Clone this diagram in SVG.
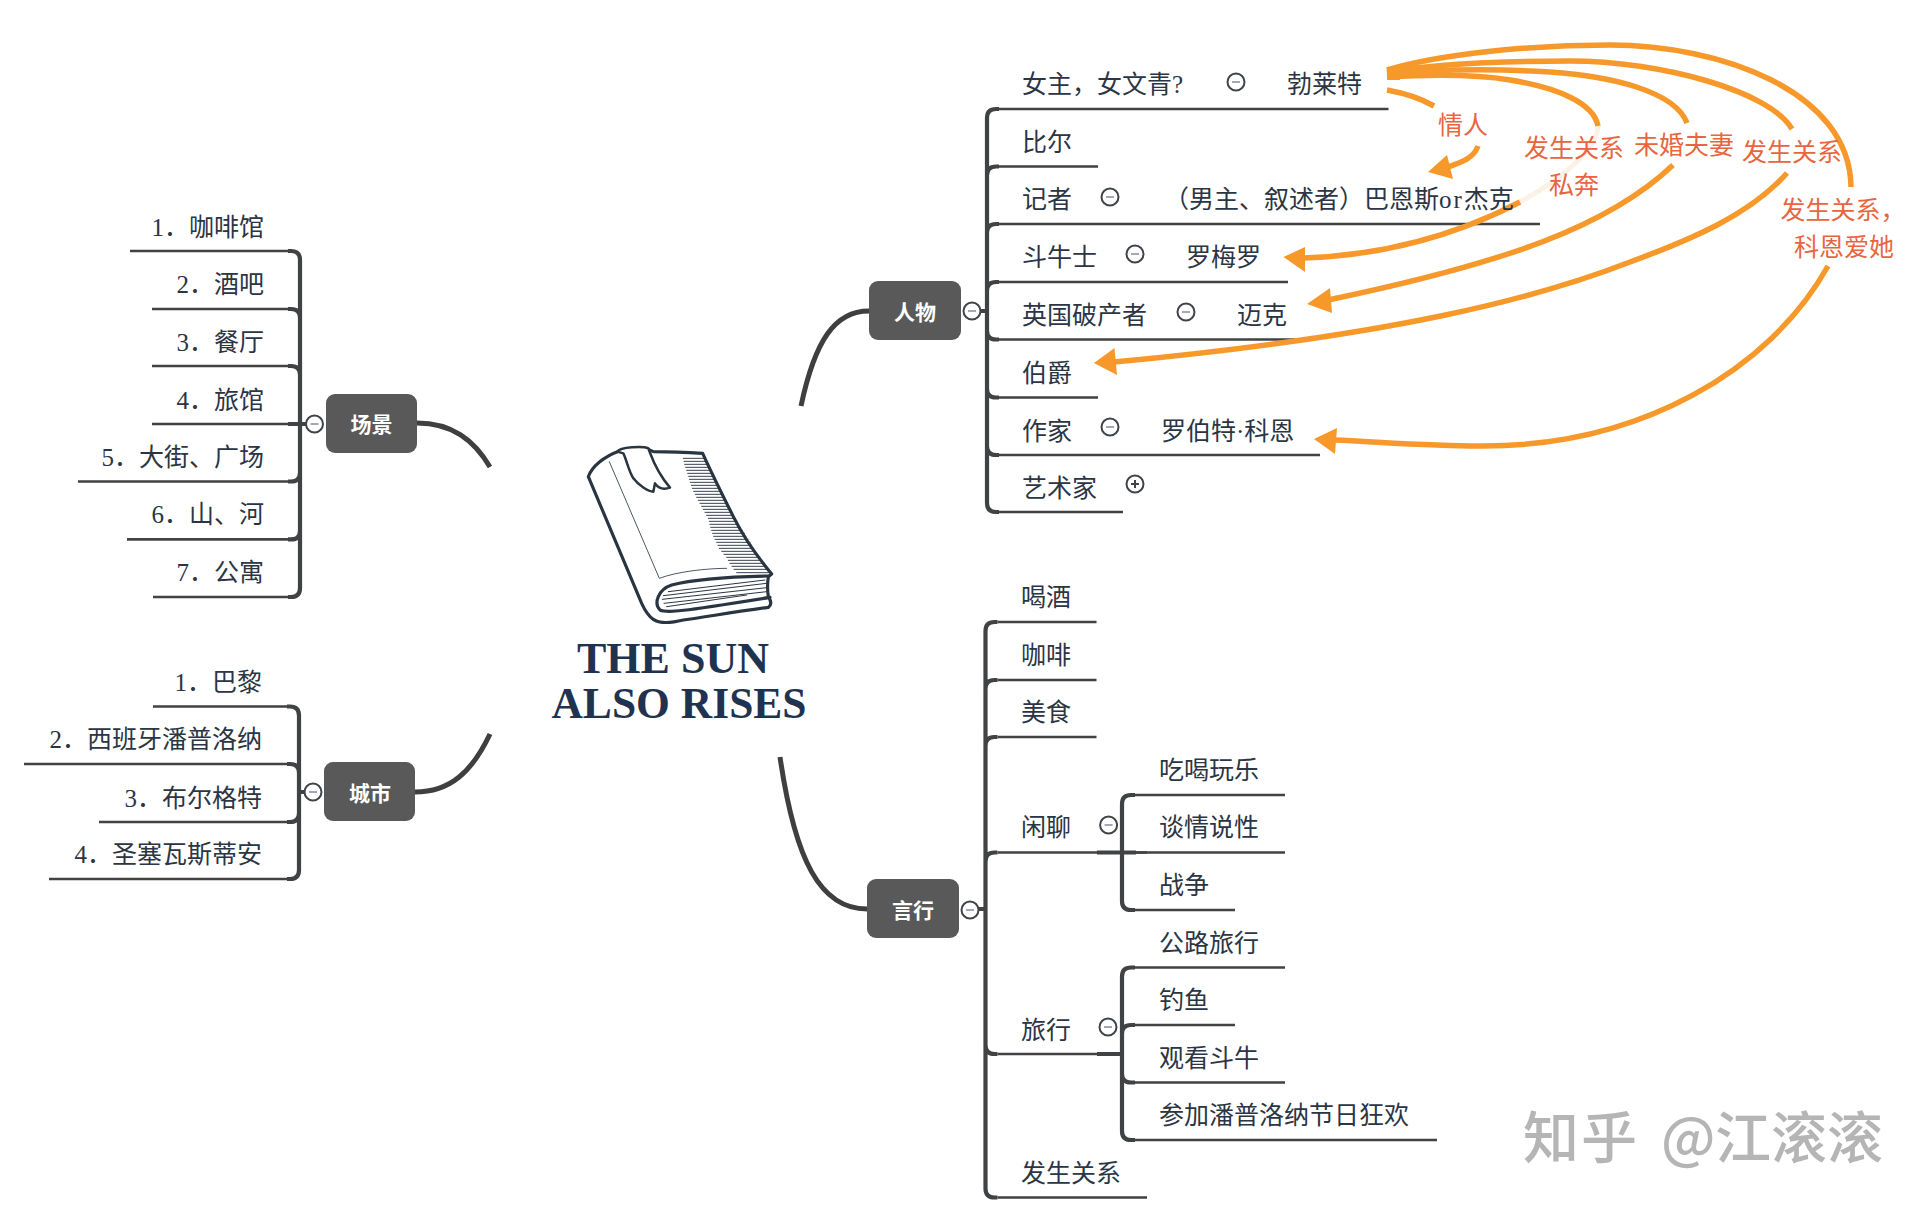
<svg xmlns="http://www.w3.org/2000/svg" width="1930" height="1214" viewBox="0 0 1930 1214">
<style>
text{font-family:"Liberation Serif","Noto Sans CJK SC",serif;font-size:25px;fill:#2b3544;text-spacing-trim:space-all}
.r{text-anchor:end}
.rel{fill:#e8653f;text-anchor:middle}
.nl{font-family:"Noto Sans CJK SC",sans-serif;font-size:21px;font-weight:700;fill:#fff;text-anchor:middle}
.box{fill:#595959}
.line{fill:none;stroke:#414244;stroke-width:2.7}
.trunk{fill:none;stroke:#414244;stroke-width:4.2}
.main{fill:none;stroke:#3f3f3f;stroke-width:5}
.or{fill:none;stroke:#f7992a;stroke-width:5.5}
.head{fill:#f7992a}
.ic{fill:#fff;stroke:#3e4448;stroke-width:2}
.mi{stroke:#a3a6bd;stroke-width:2}
.pl{stroke:#3e4448;stroke-width:2}
.title{font-size:44px;font-weight:700;fill:#1f3350;text-anchor:middle}
.wm{font-family:"Noto Sans CJK SC",sans-serif;font-size:56px;font-weight:500;fill:#b5b5b5}
.bk{fill:none;stroke:#2a3542;stroke-linejoin:round;stroke-linecap:round}
</style>
<defs>
<g id="minus"><circle class="ic" r="8.5"/><path class="mi" d="M-4 0H4"/></g>
<g id="plus"><circle class="ic" r="8.5"/><path class="pl" d="M-4 0H4M0 -4V4"/></g>
</defs>

<g id="connectors">
<path class="main" d="M869 311C835 311 815 340 801 406"/>
<path class="main" d="M867 909C820 909 795 860 780 757"/>
<path class="main" d="M417 423C452 423 474 440 490 467"/>
<path class="main" d="M415 792C450 792 472 772 490 734"/>

<path class="trunk" d="M987 118V503M999 109H996Q987 109 987 118M999 166.500H996Q987 166.500 987 175.500M999 224H996Q987 224 987 233M999 282H996Q987 282 987 291M999 339.500H996Q987 339.500 987 330.500M999 397.500H996Q987 397.500 987 388.500M999 455H996Q987 455 987 446M999 512H996Q987 512 987 503M980 311H987"/>
<path class="line" d="M999 109H1388.500M999 166.500H1098M999 224H1540M999 282H1288M999 339.500H1312.600M999 397.500H1098M999 455H1320M999 512H1123"/>

<path class="trunk" d="M985.500 631V1188.500M997.500 622H994.500Q985.500 622 985.500 631M997.500 680H994.500Q985.500 680 985.500 689M997.500 737H994.500Q985.500 737 985.500 746M997.500 852.500H994.500Q985.500 852.500 985.500 861.500M997.500 1054H994.500Q985.500 1054 985.500 1045M997.500 1197.500H994.500Q985.500 1197.500 985.500 1188.500M978 909H985.500"/>
<path class="line" d="M997.500 622H1096.500M997.500 680H1096.500M997.500 737H1096.500M997.500 852.500H1147M997.500 1054H1100M997.500 1197.500H1147"/>

<path class="trunk" d="M1122 804V901M1135 795H1131Q1122 795 1122 804M1097 852.500H1136M1135 910H1131Q1122 910 1122 901"/>
<path class="line" d="M1135 795H1285M1135 852.500H1285M1135 910H1235"/>
<path class="trunk" d="M1122 976.500V1131M1135 967.500H1131Q1122 967.500 1122 976.500M1135 1025H1131Q1122 1025 1122 1034M1097 1054H1122M1135 1082.500H1131Q1122 1082.500 1122 1073.500M1135 1140H1131Q1122 1140 1122 1131"/>
<path class="line" d="M1135 967.500H1285M1135 1025H1235M1135 1082.500H1285M1135 1140H1437"/>

<path class="trunk" d="M300 260V588M288 251H291Q300 251 300 260M288 309H291Q300 309 300 318M288 366H291Q300 366 300 375M288 424H300M288 481.500H291Q300 481.500 300 472.500M288 539.400H291Q300 539.400 300 530.400M288 597H291Q300 597 300 588M300 424H306"/>
<path class="line" d="M130 251H288M152 309H288M152 366H288M152 424H288M78 481.500H288M127 539.400H288M153 597H288"/>
<path class="trunk" d="M299 715.500V870M287 706.500H290Q299 706.500 299 715.500M287 764H290Q299 764 299 773M287 822H290Q299 822 299 813M287 879H290Q299 879 299 870M299 792H305"/>
<path class="line" d="M153 706.500H287M24 764H287M99 822H287M49 879H287"/>

<path d="M1598 126C1597 150 1560 180 1520 202" fill="none" stroke="#fbf1e6" stroke-width="5"/>
<path class="or" d="M1387 90Q1415 95 1434 106"/>
<path class="or" d="M1478 146C1474 158 1462 162 1445 168"/>
<polygon class="head" points="1428,172 1447,155 1453,179"/>
<path class="or" d="M1387 77C1440 74 1480 75 1510 80C1560 88 1594 104 1598 126"/>
<path class="or" d="M1520 202C1470 228 1400 255 1303 258"/>
<polygon class="head" points="1283.500,257 1305,247 1305,272"/>
<path class="or" d="M1387 74C1440 69 1500 69 1550 72C1610 76 1675 91 1687 123"/>
<path class="or" d="M1673 165C1610 225 1510 262 1328 300"/>
<polygon class="head" points="1307,304 1330,288 1332,313"/>
<path class="or" d="M1387 72C1440 63 1510 61 1570 61C1660 61 1770 91 1792 129"/>
<path class="or" d="M1787 173C1750 215 1690 240 1630 262C1540 297 1400 335 1114 362"/>
<polygon class="head" points="1094,363 1114.500,348 1117,375"/>
<path class="or" d="M1387 70C1440 54 1530 45 1610 45C1720 45 1850 91 1851 187"/>
<path class="or" d="M1828 266C1770 370 1640 447 1480 446C1430 446 1380 442 1334 440"/>
<polygon class="head" points="1314,439 1337,428 1335,454"/>
<path d="M1387 67H1400V80H1387Z" class="head"/>
</g>

<g id="center">
<g transform="translate(520 420) scale(.33333)">
<path class="bk" stroke-width="9.500" d="M205 170C215 140 250 110 300 92C330 85 370 82 385 88L400 95C450 95 500 97 548 100C575 160 610 230 640 290C670 350 720 420 755 462L745 470C742 490 742 510 745 530C755 545 755 555 745 562C650 575 560 590 490 600C450 610 420 612 400 598C385 588 375 572 365 550Z"/>
<path class="bk" stroke-width="9.500" d="M745 468C640 470 520 478 455 495C415 508 400 550 420 570C440 580 480 575 750 532"/>
<path class="bk" stroke-width="2.500" d="M268 125L418 475C470 455 560 445 620 445"/>
<path class="bk" stroke-width="3" d="M445 515L735 480M430 527L740 490M427 538L740 503M432 550L740 515M440 560L680 525"/>
<path class="bk" stroke-width="2.800" d="M490 115H553M492 124H557M494 133H561M497 142H565M500 151H570M503 160H574M506 169H578M508 178H583M511 187H587M514 196H592M517 205H596M521 214H601M526 223H606M530 232H611M535 241H616M540 250H620M545 259H625M550 268H630M555 277H635M560 286H640M565 295H645M568 304H651M570 313H656M572 322H662M575 331H667M578 340H673M581 349H678M585 358H684M590 367H690M594 376H695M598 385H701M605 394H707M612 403H713M620 412H720M625 421H727M630 430H733M636 439H740M642 448H746M650 458H752"/>
<path d="M292 95C300 80 370 78 385 85C395 110 405 150 450 203C430 210 415 205 405 190L400 215C385 215 355 195 340 175C325 150 320 120 310 100Z" fill="#fff" stroke="#2a3542" stroke-width="7.500" stroke-linejoin="round"/>
</g>
<text class="title" x="673" y="673">THE SUN</text>
<text class="title" x="679" y="718" style="font-size:43.500px">ALSO RISES</text>
</g>

<g id="topic-renwu"><rect class="box" x="869" y="281" width="92" height="59" rx="9"/><text class="nl" x="915" y="320">人物</text></g>
<use href="#minus" x="972" y="311"/>
<g id="topic-yanxing"><rect class="box" x="867" y="879" width="92" height="59" rx="9"/><text class="nl" x="913" y="918">言行</text></g>
<use href="#minus" x="970" y="910"/>
<g id="topic-changjing"><rect class="box" x="326" y="394" width="91" height="59" rx="9"/><text class="nl" x="371.500" y="432">场景</text></g>
<use href="#minus" x="314.500" y="424"/>
<g id="topic-chengshi"><rect class="box" x="324" y="762" width="91" height="59" rx="9"/><text class="nl" x="370" y="801">城市</text></g>
<use href="#minus" x="313" y="792"/>

<g id="n-nvzhu"><text x="1022" y="93">女主，女文青?</text><use href="#minus" x="1236" y="82"/><text x="1287" y="93">勃莱特</text></g>
<g id="n-bier"><text x="1022" y="151">比尔</text></g>
<g id="n-jizhe"><text x="1022" y="208">记者</text><use href="#minus" x="1110" y="197"/><text x="1164" y="208">（男主、叙述者）巴恩斯<tspan letter-spacing="2">or</tspan>杰克</text></g>
<g id="n-douniu"><text x="1022" y="266">斗牛士</text><use href="#minus" x="1135" y="254"/><text x="1186" y="266">罗梅罗</text></g>
<g id="n-yingguo"><text x="1022" y="324">英国破产者</text><use href="#minus" x="1186" y="312"/><text x="1237" y="324">迈克</text></g>
<g id="n-bojue"><text x="1022" y="381.500">伯爵</text></g>
<g id="n-zuojia"><text x="1022" y="439.500">作家</text><use href="#minus" x="1110" y="427"/><text x="1161" y="439.500">罗伯特·科恩</text></g>
<g id="n-yishu"><text x="1022" y="496.500">艺术家</text><use href="#plus" x="1135" y="484"/></g>

<g id="n-hejiu"><text x="1021" y="606">喝酒</text></g>
<g id="n-kafei"><text x="1021" y="664">咖啡</text></g>
<g id="n-meishi"><text x="1021" y="721">美食</text></g>
<g id="n-xianliao"><text x="1021" y="836">闲聊</text><use href="#minus" x="1108.600" y="825"/></g>
<g id="n-chihe"><text x="1159" y="779">吃喝玩乐</text></g>
<g id="n-tanqing"><text x="1159" y="836">谈情说性</text></g>
<g id="n-zhanzheng"><text x="1159" y="894">战争</text></g>
<g id="n-lvxing"><text x="1021" y="1039">旅行</text><use href="#minus" x="1108" y="1027"/></g>
<g id="n-gonglu"><text x="1159" y="952">公路旅行</text></g>
<g id="n-diaoyu"><text x="1159" y="1009">钓鱼</text></g>
<g id="n-guankan"><text x="1159" y="1067">观看斗牛</text></g>
<g id="n-canjia"><text x="1159" y="1124">参加潘普洛纳节日狂欢</text></g>
<g id="n-fasheng"><text x="1021" y="1182">发生关系</text></g>

<g id="n-s1"><text class="r" x="264" y="236">1．咖啡馆</text></g>
<g id="n-s2"><text class="r" x="264" y="293">2．酒吧</text></g>
<g id="n-s3"><text class="r" x="264" y="351">3．餐厅</text></g>
<g id="n-s4"><text class="r" x="264" y="409">4．旅馆</text></g>
<g id="n-s5"><text class="r" x="264" y="466">5．大街、广场</text></g>
<g id="n-s6"><text class="r" x="264" y="523">6．山、河</text></g>
<g id="n-s7"><text class="r" x="264" y="581">7．公寓</text></g>
<g id="n-c1"><text class="r" x="262" y="691">1．巴黎</text></g>
<g id="n-c2"><text class="r" x="262" y="748">2．西班牙潘普洛纳</text></g>
<g id="n-c3"><text class="r" x="262" y="807">3．布尔格特</text></g>
<g id="n-c4"><text class="r" x="262" y="863">4．圣塞瓦斯蒂安</text></g>

<g id="rel-labels">
<text class="rel" x="1463" y="134">情人</text>
<text class="rel" x="1574" y="157">发生关系</text>
<text class="rel" x="1574" y="194">私奔</text>
<text class="rel" x="1684" y="154">未婚夫妻</text>
<text class="rel" x="1792" y="161">发生关系</text>
<text class="rel" x="1843" y="219">发生关系，</text>
<text class="rel" x="1844" y="256">科恩爱她</text>
</g>

<text class="wm" y="1158"><tspan x="1523" letter-spacing="2">知乎</tspan><tspan x="1661">@</tspan><tspan x="1715">江滚滚</tspan></text>
</svg>
